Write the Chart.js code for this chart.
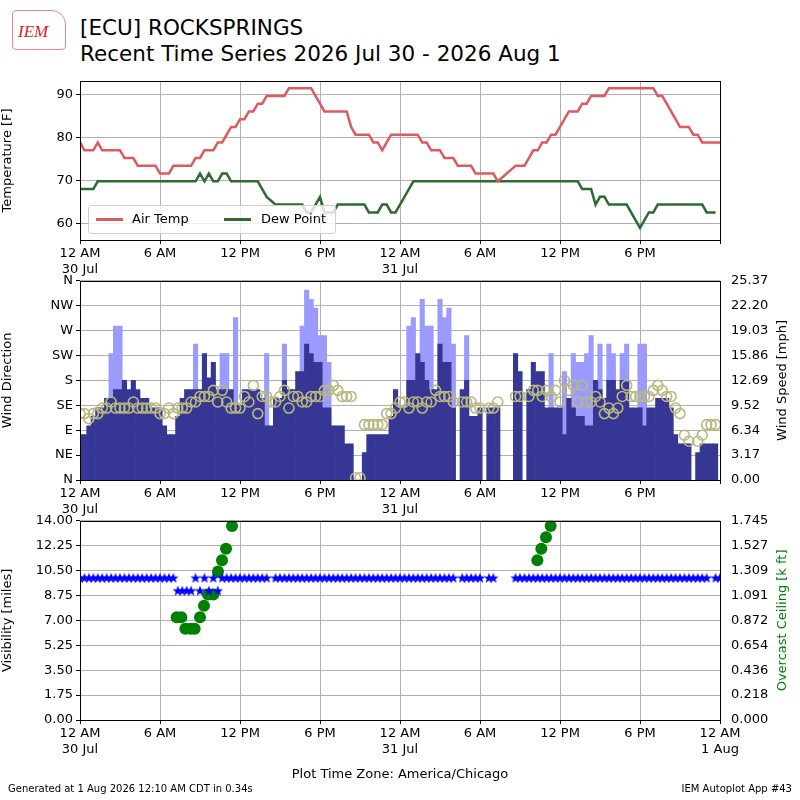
<!DOCTYPE html>
<html>
<head>
<meta charset="utf-8">
<script src="https://cdn.jsdelivr.net/npm/chart.js@4/dist/chart.umd.min.js"></script>
<style>
  body { margin: 0; background: #fff; font-family: "DejaVu Sans", sans-serif; }
  #wrap { position: relative; width: 800px; height: 800px; overflow: hidden; }
  canvas { position: absolute; left: 0; }
  .txt { position: absolute; white-space: nowrap; color: #000; }
</style>
</head>
<body>
<div id="wrap">
  <div class="txt" style="left:12px;top:10px;width:52px;height:38px;border:1px solid #e88;border-radius:4px 14px 4px 4px;"></div>
  <div class="txt" style="left:18px;top:22px;font:italic 17px 'Liberation Serif',serif;color:#d22;">IEM</div>
  <div class="txt" style="left:80px;top:15px;font-size:21.5px;">[ECU] ROCKSPRINGS</div>
  <div class="txt" style="left:80px;top:41px;font-size:21.5px;">Recent Time Series 2026 Jul 30 - 2026 Aug 1</div>
  <canvas id="c1" width="800" height="210" style="top:70px"></canvas>
  <canvas id="c2" width="800" height="250" style="top:270px"></canvas>
  <canvas id="c3" width="800" height="250" style="top:510px"></canvas>
  <div class="txt" style="left:88px;top:205px;width:246px;height:27px;border:1px solid #d0d0d0;border-radius:3px;background:rgba(255,255,255,0.8);">
    <div class="txt" style="left:7px;top:12px;width:27px;height:3px;background:#dd5a5f;"></div>
    <div class="txt" style="left:43px;top:5px;font-size:13px;">Air Temp</div>
    <div class="txt" style="left:135px;top:12px;width:27px;height:3px;background:#2f6a31;"></div>
    <div class="txt" style="left:172px;top:5px;font-size:13px;">Dew Point</div>
  </div>
  <div class="txt" style="left:0;width:800px;text-align:center;top:766px;font-size:13px;">Plot Time Zone: America/Chicago</div>
  <div class="txt" style="left:8px;top:783px;font-size:10px;">Generated at 1 Aug 2026 12:10 AM CDT in 0.34s</div>
  <div class="txt" style="right:8px;top:783px;font-size:10px;">IEM Autoplot App #43</div>
</div>
<script>
// observations every 20 minutes starting 12 AM 30 Jul (index / 3 = hours)
const airTemp = [78.8,77,77,77,78.8,77,77,77,77,77,75.2,75.2,75.2,73.4,73.4,73.4,73.4,73.4,71.6,71.6,71.6,73.4,73.4,73.4,73.4,73.4,75.2,75.2,77,77,77,78.8,78.8,80.6,82.4,82.4,84.2,84.2,86,86,87.8,87.8,89.6,89.6,89.6,89.6,89.6,91.4,91.4,91.4,91.4,91.4,91.4,89.6,87.8,86,86,86,86,86,86,82.4,80.6,80.6,80.6,80.6,78.8,78.8,77,78.8,80.6,80.6,
  80.6,80.6,80.6,80.6,80.6,78.8,78.8,77,77,77,75.2,75.2,75.2,73.4,73.4,73.4,73.4,71.6,71.6,71.6,71.6,71.6,69.8,70.7,71.6,72.5,73.4,73.4,73.4,75.2,77,77,78.8,78.8,80.6,80.6,82.4,84.2,86,86,86,87.8,87.8,89.6,89.6,89.6,89.6,91.4,91.4,91.4,91.4,91.4,91.4,91.4,91.4,91.4,91.4,91.4,89.6,89.6,87.8,86,84.2,82.4,82.4,82.4,80.6,80.6,78.8,78.8,78.8,78.8,78.8,77];
const dewPoint = [68,68,68,68,69.8,69.8,69.8,69.8,69.8,69.8,69.8,69.8,69.8,69.8,69.8,69.8,69.8,69.8,69.8,69.8,69.8,69.8,69.8,69.8,69.8,69.8,69.8,71.6,69.8,71.6,69.8,69.8,71.6,71.6,69.8,69.8,69.8,69.8,69.8,69.8,69.8,68,66.2,65.3,64.4,64.4,64.4,64.4,64.4,64.4,64.4,62.6,62.6,64.4,66.2,62.6,62.6,62.6,64.4,64.4,64.4,64.4,64.4,64.4,64.4,62.6,62.6,62.6,64.4,64.4,62.6,62.6,
  64.4,66.2,68,69.8,69.8,69.8,69.8,69.8,69.8,69.8,69.8,69.8,69.8,69.8,69.8,69.8,69.8,69.8,69.8,69.8,69.8,69.8,69.8,69.8,69.8,69.8,69.8,69.8,69.8,69.8,69.8,69.8,69.8,69.8,69.8,69.8,69.8,69.8,69.8,69.8,69.8,68,68,68,64.4,66.2,66.2,64.4,64.4,64.4,64.4,64.4,62.6,60.8,59,60.8,62.6,62.6,64.4,64.4,64.4,64.4,64.4,64.4,64.4,64.4,64.4,64.4,64.4,62.6,62.6,62.6];
const windSpeed = [5.8,5.8,6.9,8.1,9.2,9.2,10.4,10.4,11.5,11.5,12.7,11.5,12.7,11.5,10.4,10.4,9.2,9.2,9.2,6.9,5.8,5.8,8.1,10.4,11.5,11.5,11.5,11.5,16.1,13,15,11.5,11.5,11.5,11.5,9.5,9.5,11.5,11.5,11.5,11.5,10.4,6.9,6.9,10.4,10.4,12.7,11.5,11.5,13.8,13.8,17.3,16.1,15,15,9.2,9.2,6.9,6.9,6.9,4.6,4.6,0,0,3.5,5.8,5.8,5.8,5.8,5.8,8.1,11.5,
  9.2,9.2,12.7,12.7,16.1,15,12.7,11.5,11.5,17.3,15,15,9.2,null,11.5,12.7,8.1,8.1,9.2,null,9.2,9.2,9.2,null,null,null,16.1,13.8,null,11.5,15,13.8,13.8,9.2,9.2,9.2,9.2,5.8,10.4,9.2,8.1,8.1,6.9,6.9,12.7,11.5,10.4,12.7,12.7,11.5,12.7,12.7,9.2,9.2,9.2,6.9,9.2,9.2,10.4,10.4,10.4,9.2,5.8,4.6,4.6,4.6,null,3.5,4.6,4.6,4.6,4.6];
const windGust = [null,null,null,null,null,null,null,16.1,19.6,19.6,null,null,null,null,null,null,null,null,null,null,null,null,null,null,null,null,17.3,null,null,null,null,null,16.1,16.1,null,20.7,null,null,null,null,null,null,16.1,null,null,null,17.3,null,null,null,19.6,24.2,23,21.9,18.4,18.4,15,null,null,null,null,null,null,null,null,null,null,null,null,null,null,null,
  null,null,19.6,20.7,null,23,19.6,19.6,null,23,20.7,21.9,17.3,null,null,18.4,null,null,null,null,null,null,null,null,null,null,null,null,null,null,null,null,null,null,16.1,null,null,13.8,null,16.1,15,15,16.1,18.4,null,17.3,null,17.3,16.1,null,16.1,17.3,null,null,17.3,17.3,null,null,null,null,null,null,null,null,null,null,null,null,null,null,null,null];
const windDir = [120,120,111,120,120,130,130,141,130,130,130,130,141,130,130,130,130,130,120,120,130,120,130,130,130,141,141,151,151,151,162,141,162,141,130,130,130,151,141,171,120,151,151,141,141,151,162,130,151,151,141,141,151,151,151,162,162,171,162,151,151,151,4,4,100,100,100,100,100,120,120,130,
  141,141,130,141,141,130,141,141,162,151,151,151,141,null,141,141,141,130,130,null,130,130,141,null,null,null,151,151,null,151,162,162,151,162,151,162,141,180,162,171,141,171,141,141,151,141,120,130,120,130,151,171,151,151,151,151,151,162,171,162,151,151,130,120,81,70,null,70,81,100,100,100,null];
const visibility = [10,10,10,10,10,10,10,10,10,10,10,10,10,10,10,10,10,10,10,10,10,10,9.1,9.1,9.1,9.1,10,9.1,10,9.1,10,9.1,10,10,10,10,10,10,10,10,10,10,10,null,10,10,10,10,10,10,10,10,10,10,10,10,10,10,10,10,10,10,10,10,10,10,10,10,10,10,10,10,
  10,10,10,10,10,10,10,10,10,10,10,10,10,null,10,10,10,10,10,null,10,10,null,null,null,null,10,10,10,10,10,10,10,10,10,10,10,10,10,10,10,10,10,10,10,10,10,10,10,10,10,10,10,10,10,10,10,10,10,10,10,10,10,10,10,10,10,10,10,10,null,10,10,10,10,10,10];
const ceilHours = [7.25,7.6,7.9,8.3,8.6,9.0,9.3,9.6,10.0,10.35,10.65,10.95,11.4,34.3,34.6,34.95,35.3];
const ceilKft = [0.9,0.9,0.8,0.8,0.8,0.9,1.0,1.1,1.1,1.3,1.4,1.5,1.7,1.4,1.5,1.6,1.7];
const dirLabels = ['N','NE','E','SE','S','SW','W','NW','N'];
const speedLabels = ['0.00','3.17','6.34','9.52','12.69','15.86','19.03','22.20','25.37'];
const visLabels = ['0.00','1.75','3.50','5.25','7.00','8.75','10.50','12.25','14.00'];
const ceilLabels = ['0.000','0.218','0.436','0.654','0.872','1.091','1.309','1.527','1.745'];
const hourLabels = {0:'12 AM',6:'6 AM',12:'12 PM',18:'6 PM'};
const dayLabels = {0:'30 Jul',24:'31 Jul',48:'1 Aug'};

const pts = arr => arr.map((v, i) => ({x: i / 3, y: v})).filter(p => p.y !== null);
const font = {family: 'DejaVu Sans', size: 13};
const grid = {color: '#b0b0b0', tickLength: 4, tickColor: '#000'};

const frame = {
  id: 'frame',
  afterDraw(chart) {
    const a = chart.chartArea, c = chart.ctx;
    c.save(); c.strokeStyle = '#000'; c.lineWidth = 1;
    c.strokeRect(Math.round(a.left) + 0.5, Math.round(a.top) + 0.5, Math.round(a.right - a.left), Math.round(a.bottom - a.top));
    const t = chart.options.rightTitle;
    if (t) {
      c.translate(783, (a.top + a.bottom) / 2);
      c.rotate(-Math.PI / 2);
      c.fillStyle = t.color; c.font = '13px "DejaVu Sans"';
      c.textAlign = 'center'; c.textBaseline = 'middle';
      c.fillText(t.text, 0, 0);
    }
    c.restore();
  }
};

function xScale(showEnd) {
  return {
    type: 'linear', min: 0, max: 48, offset: false,
    grid: {...grid, offset: false}, border: {display: false},
    ticks: {
      stepSize: 6, color: '#000', font: font, maxRotation: 0, autoSkip: false, padding: 2,
      callback: v => {
        if (v === 48 && !showEnd) return '';
        const lbl = hourLabels[v % 24];
        return dayLabels[v] !== undefined ? [lbl, dayLabels[v]] : lbl;
      }
    },
    afterFit: s => { s.height = 40; }
  };
}
function yTitle(text, color) {
  return {display: true, text: text, color: color || '#000', font: font, padding: 0};
}
const fixW = s => { s.width = 80; };
function labelTicks(labels, max) {
  return {
    afterBuildTicks: s => { s.ticks = labels.map((_, i) => ({value: i * max / 8})); },
    ticks: {color: '#000', font: font, callback: (v, i) => labels[i]}
  };
}

Chart.defaults.font.family = 'DejaVu Sans';
Chart.defaults.animation = false;

new Chart(document.getElementById('c1'), {
  type: 'line',
  data: {datasets: [
    {label: 'Air Temp', data: pts(airTemp), borderColor: '#dd5a5f', borderWidth: 2.5, pointRadius: 0},
    {label: 'Dew Point', data: pts(dewPoint), borderColor: '#2f6a31', borderWidth: 2.5, pointRadius: 0}
  ]},
  options: {
    responsive: false,
    layout: {padding: {top: 10, right: 80, left: 0, bottom: 0}},
    plugins: {legend: {display: false}, tooltip: {enabled: false}},
    scales: {
      x: xScale(false),
      y: {min: 56.2, max: 93.1, grid: grid, border: {display: false},
          afterBuildTicks: s => { s.ticks = [60,70,80,90].map(v => ({value: v})); },
          ticks: {color: '#000', font: font}, title: yTitle('Temperature [F]'), afterFit: fixW}
    }
  },
  plugins: [frame]
});

new Chart(document.getElementById('c2'), {
  data: {datasets: [
    {type: 'scatter', data: pts(windDir), yAxisID: 'y', pointStyle: 'circle', pointRadius: 5,
     borderColor: '#b9b97e', borderWidth: 1.6, backgroundColor: 'rgba(0,0,0,0)', order: 0},
    {type: 'bar', data: pts(windSpeed), yAxisID: 'y2', backgroundColor: '#363694', order: 1,
     barPercentage: 1, categoryPercentage: 1, grouped: false},
    {type: 'bar', data: pts(windGust), yAxisID: 'y2', backgroundColor: '#9a9aff', order: 2,
     barPercentage: 1, categoryPercentage: 1, grouped: false}
  ]},
  options: {
    responsive: false,
    rightTitle: {text: 'Wind Speed [mph]', color: '#000'},
    layout: {padding: {top: 10, right: 0, left: 0, bottom: 0}},
    plugins: {legend: {display: false}, tooltip: {enabled: false}},
    scales: {
      x: xScale(false),
      y: {position: 'left', min: 0, max: 360, grid: grid, border: {display: false},
          ...labelTicks(dirLabels, 360),
          title: yTitle('Wind Direction'), afterFit: fixW},
      y2: {position: 'right', min: 0, max: 25.37, grid: {display: false}, border: {display: false},
           ...labelTicks(speedLabels, 25.37), afterFit: fixW}
    }
  },
  plugins: [frame]
});

const star = document.createElement('canvas');
star.width = 12; star.height = 12;
(() => {
  const c = star.getContext('2d');
  c.fillStyle = '#0000ff';
  c.beginPath();
  for (let k = 0; k < 10; k++) {
    const r = k % 2 ? 2.3 : 5.5, a = -Math.PI / 2 + k * Math.PI / 5;
    c.lineTo(6 + r * Math.cos(a), 6.5 + r * Math.sin(a));
  }
  c.closePath(); c.fill();
})();

new Chart(document.getElementById('c3'), {
  type: 'scatter',
  data: {datasets: [
    {data: ceilHours.map((h, i) => ({x: h, y: ceilKft[i]})), yAxisID: 'y2', pointRadius: 6,
     backgroundColor: '#008000', borderColor: '#008000', borderWidth: 0, order: 1},
    {data: pts(visibility), yAxisID: 'y', pointStyle: star, order: 0}
  ]},
  options: {
    responsive: false,
    rightTitle: {text: 'Overcast Ceiling [k ft]', color: '#008000'},
    layout: {padding: {top: 10, right: 0, left: 0, bottom: 0}},
    plugins: {legend: {display: false}, tooltip: {enabled: false}},
    scales: {
      x: xScale(true),
      y: {position: 'left', min: 0, max: 14, grid: grid, border: {display: false},
          ...labelTicks(visLabels, 14),
          title: yTitle('Visibility [miles]'), afterFit: fixW},
      y2: {position: 'right', min: 0, max: 1.745, grid: {display: false}, border: {display: false},
           ...labelTicks(ceilLabels, 1.745), afterFit: fixW}
    }
  },
  plugins: [frame]
});
</script>
</body>
</html>
